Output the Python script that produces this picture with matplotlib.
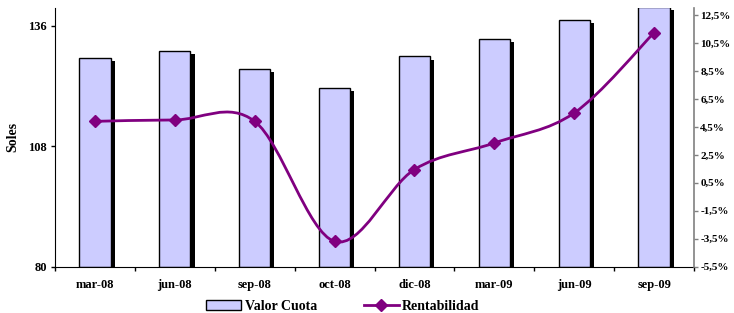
import numpy as np
import matplotlib
matplotlib.use("Agg")
import matplotlib.pyplot as plt
from matplotlib.path import Path
from matplotlib.patches import PathPatch, Patch
from matplotlib.lines import Line2D
from matplotlib import patheffects as pe

# DATA
meses = ["mar-08", "jun-08", "sep-08", "oct-08", "dic-08", "mar-09", "jun-09", "sep-09"]
valor_cuota = [128.5, 130.0, 125.8, 121.5, 128.8, 132.9, 137.2, 140.2]
rentabilidad = [4.9, 5.0, 4.9, -3.7, 1.45, 3.35, 5.5, 11.25]
soles_ticks = [80, 108, 136]
rent_ticks = [-5.5, -3.5, -1.5, 0.5, 2.5, 4.5, 6.5, 8.5, 10.5, 12.5]

plt.rcParams['font.family'] = ['Liberation Serif', 'DejaVu Serif']
plt.rcParams['font.weight'] = 'bold'

purple = "#800080"
x = np.arange(len(meses))

fig = plt.figure(figsize=(7.34, 3.13), dpi=100)
ax = fig.add_axes([55/734, 46.5/313, 639/734, 258.2/313])
ax2 = ax.twinx()

# bars with black drop shadow
bars = ax.bar(x, np.array(valor_cuota) - 80, bottom=80, width=0.39,
              color="#CCCCFF", edgecolor="black", linewidth=1.0, zorder=2)
for b in bars:
    b.set_path_effects([pe.SimplePatchShadow(offset=(3.0, -2.2), shadow_rgbFace="black", alpha=1.0),
                        pe.Normal()])

ax.set_xlim(-0.5, len(meses) - 0.5)
ax.set_ylim(80, 140)
ax.set_yticks(soles_ticks)
ax.set_yticklabels([str(t) for t in soles_ticks], fontsize=9, fontweight="bold")
ax.set_ylabel("Soles", fontsize=10, fontweight="bold")
ax.yaxis.set_label_coords(-0.056, 0.5)

ax.set_xticks(x)
ax.set_xticklabels(meses, fontsize=9, fontweight="bold")
ax.set_xticks(np.arange(len(meses) + 1) - 0.5, minor=True)
ax.tick_params(axis="x", which="major", length=0, pad=9)
ax.tick_params(axis="x", which="minor", length=3, width=1, direction="out")
ax.tick_params(axis="y", length=3, width=1, direction="out", pad=3)

for a in (ax, ax2):
    a.spines["top"].set_visible(False)
ax.spines["right"].set_visible(False)
ax2.spines["left"].set_visible(False)
ax2.spines["bottom"].set_visible(False)
ax2.spines["right"].set_color("#808080")
ax2.spines["right"].set_linewidth(1.2)

# smoothed line (Bezier through the points)
pts = np.column_stack([x, rentabilidad]).astype(float)
n = len(pts)
verts = [pts[0]]
codes = [Path.MOVETO]
for i in range(n - 1):
    p_prev = pts[max(i - 1, 0)]
    p_next2 = pts[min(i + 2, n - 1)]
    c1 = pts[i] + (pts[i + 1] - p_prev) / 6
    c2 = pts[i + 1] - (p_next2 - pts[i]) / 6
    verts += [c1, c2, pts[i + 1]]
    codes += [Path.CURVE4] * 3
ax2.add_patch(PathPatch(Path(verts, codes), facecolor="none", edgecolor=purple,
                        linewidth=2.0, zorder=3, capstyle="round"))
ax2.plot(x, rentabilidad, linestyle="none", marker="D", markersize=6,
         color=purple, zorder=4)

ax2.set_ylim(-5.5, 13.0)
ax2.set_yticks(rent_ticks)
ax2.set_yticklabels([("%.1f%%" % t).replace(".", ",") for t in rent_ticks],
                    fontsize=8, fontweight="bold")
ax2.tick_params(axis="y", length=3, width=1, direction="out", color="#808080", pad=1.5)

handles = [Patch(facecolor="#CCCCFF", edgecolor="black", linewidth=1.0),
           Line2D([], [], color=purple, linewidth=2.0, marker="D", markersize=6)]
fig.legend(handles, ["Valor Cuota", "Rentabilidad"], loc="center",
           bbox_to_anchor=(343/734, 1 - 306/313), ncol=2, frameon=False,
           prop={"size": 10, "weight": "bold"}, handlelength=2.5,
           handletextpad=0.25, columnspacing=3.4)

fig.savefig("out.png", dpi=100)
